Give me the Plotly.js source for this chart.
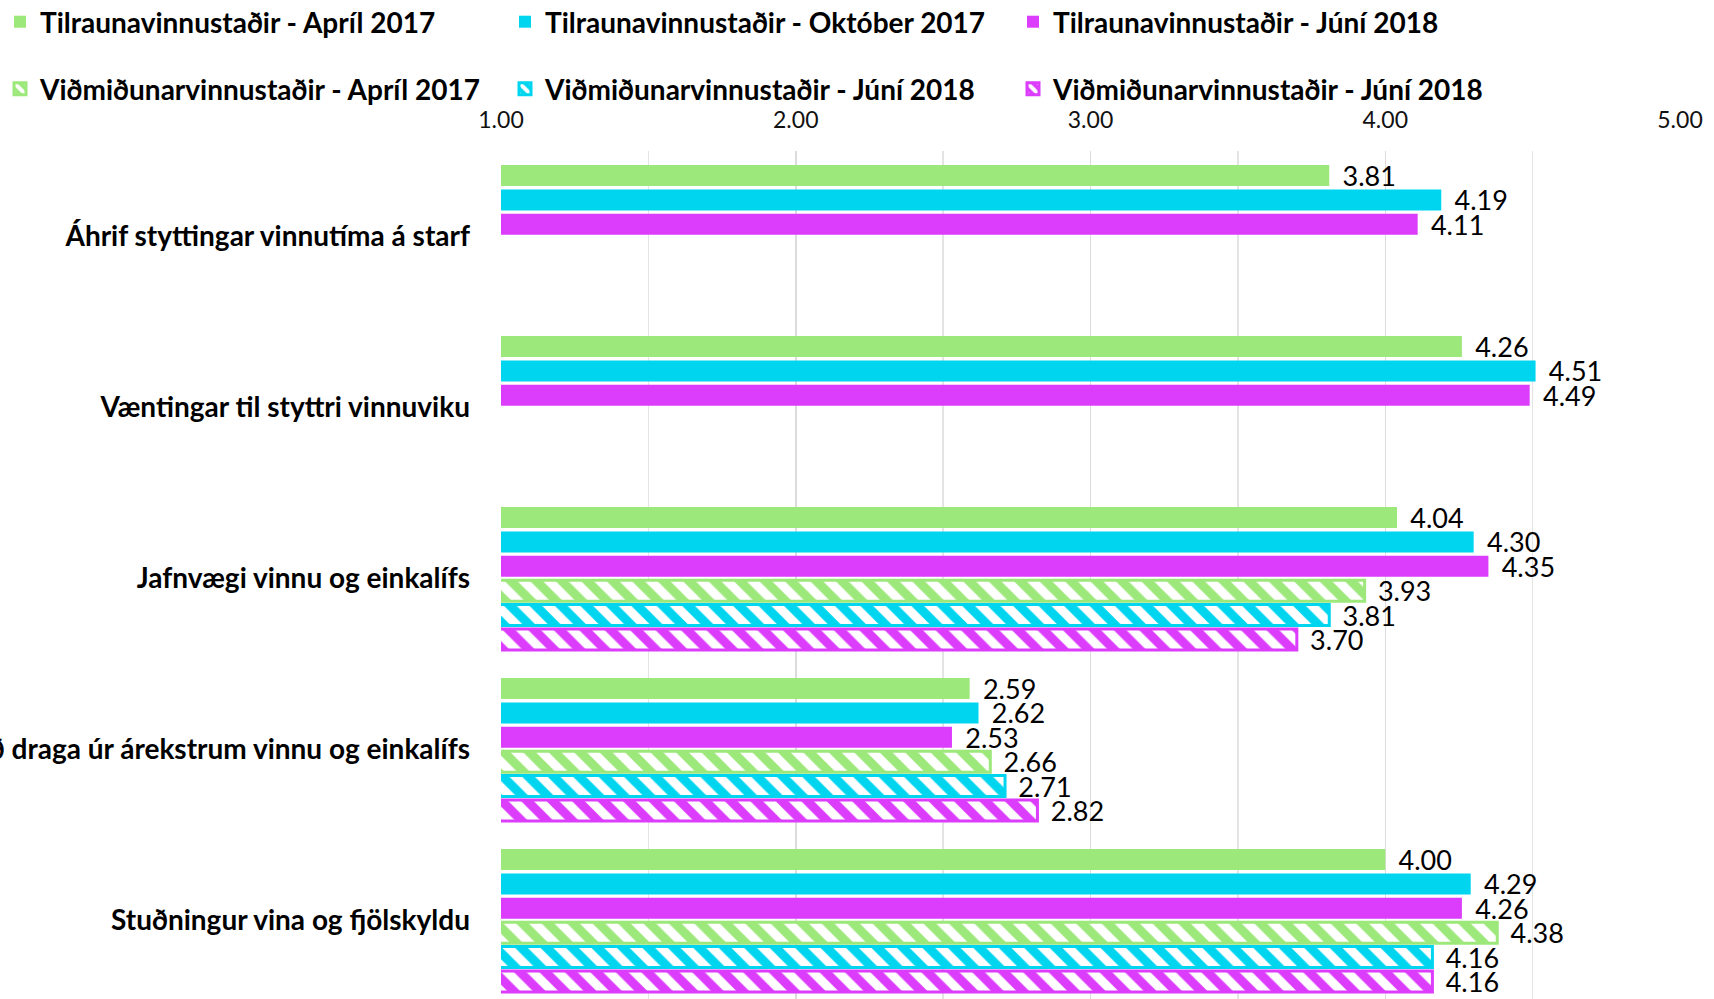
<!DOCTYPE html>
<html>
<head>
<meta charset="utf-8">
<script src="https://cdn.plot.ly/plotly-3.0.1.min.js"></script>
<style>html,body{margin:0;padding:0;overflow:hidden;background:#fff}</style>
</head>
<body>
<div id="chart" style="width:1714px;height:999px"></div>
<script>
const categories = [
  "Áhrif styttingar vinnutíma á starf",
  "Væntingar til styttri vinnuviku",
  "Jafnvægi vinnu og einkalífs",
  "Geta til að draga úr árekstrum vinnu og einkalífs",
  "Stuðningur vina og fjölskyldu"
];
const seriesNames = [
  "Tilraunavinnustaðir - Apríl 2017",
  "Tilraunavinnustaðir - Október 2017",
  "Tilraunavinnustaðir - Júní 2018",
  "Viðmiðunarvinnustaðir - Apríl 2017",
  "Viðmiðunarvinnustaðir - Júní 2018",
  "Viðmiðunarvinnustaðir - Júní 2018"
];
const tilraunApr2017 = [3.81, 4.26, 4.04, 2.59, 4.00];
const tilraunOkt2017 = [4.19, 4.51, 4.30, 2.62, 4.29];
const tilraunJun2018 = [4.11, 4.49, 4.35, 2.53, 4.26];
const vidmidApr2017 = [null, null, 3.93, 2.66, 4.38];
const vidmidJun2018a = [null, null, 3.81, 2.71, 4.16];
const vidmidJun2018b = [null, null, 3.70, 2.82, 4.16];
const tickValues = [1, 2, 3, 4, 5];

const green = "#9de87a", cyan = "#00d5f0", magenta = "#dc3cfc";
const FONT = "Lato, 'Open Sans', sans-serif";

const values = [tilraunApr2017, tilraunOkt2017, tilraunJun2018, vidmidApr2017, vidmidJun2018a, vidmidJun2018b];
const colors = [green, cyan, magenta, green, cyan, magenta];
const legendIds = ["legend", "legend2", "legend3", "legend4", "legend5", "legend6"];

const traces = values.map((v, i) => {
  const hatched = i >= 3;
  const t = {
    type: "bar",
    orientation: "h",
    name: seriesNames[i],
    y: categories,
    x: v,
    legend: legendIds[i],
    texttemplate: "\u2009\u00a0%{x:.2f}",
    textposition: "outside",
    constraintext: "none",
    cliponaxis: false,
    textfont: {family: FONT, size: 27, color: "#000"},
    marker: {
      color: colors[i],
      line: {color: colors[i], width: hatched ? 3 : 0}
    }
  };
  if (hatched) {
    t.marker.pattern = {shape: "\\", fgcolor: "#ffffff", fgopacity: 1, bgcolor: colors[i], size: 18, solidity: 0.5, fillmode: "overlay"};
  }
  return t;
});

function legendAt(col, row) {
  return {
    orientation: "h",
    xref: "container", yref: "container",
    x: (col * 508 - 3) / 1714, xanchor: "left",
    y: 1 - (row === 0 ? 22 : 89) / 999, yanchor: "middle",
    font: {family: FONT, size: 28, color: "#000", weight: "bold"},
    bgcolor: "rgba(0,0,0,0)"
  };
}

const layout = {
  width: 1714, height: 999,
  margin: {l: 501, r: 34, t: 151, b: 0, pad: 0},
  paper_bgcolor: "#fff", plot_bgcolor: "#fff",
  barmode: "group",
  bargap: 0.144,
  bargroupgap: 0.14,
  showlegend: true,
  legend: legendAt(0, 0),
  legend2: legendAt(1, 0),
  legend3: legendAt(2, 0),
  legend4: legendAt(0, 1),
  legend5: legendAt(1, 1),
  legend6: legendAt(2, 1),
  xaxis: {
    side: "top",
    range: [1, 5],
    tickvals: tickValues,
    tickformat: ".2f",
    ticks: "",
    ticklabelstandoff: 17,
    tickfont: {family: FONT, size: 23, color: "#111"},
    showgrid: true, gridcolor: "#dcdcdc", gridwidth: 1.5,
    minor: {dtick: 0.5, showgrid: true, gridcolor: "#e4e4e4", gridwidth: 1.5},
    zeroline: false, showline: false, fixedrange: true
  },
  yaxis: {
    type: "category",
    range: [4.459, -0.5],
    ticks: "",
    ticklabelstandoff: 30,
    tickfont: {family: FONT, size: 28, color: "#000", weight: "bold"},
    showgrid: false, zeroline: false, showline: false, fixedrange: true
  }
};

Plotly.newPlot("chart", traces, layout, {displayModeBar: false, staticPlot: true});
</script>
</body>
</html>
